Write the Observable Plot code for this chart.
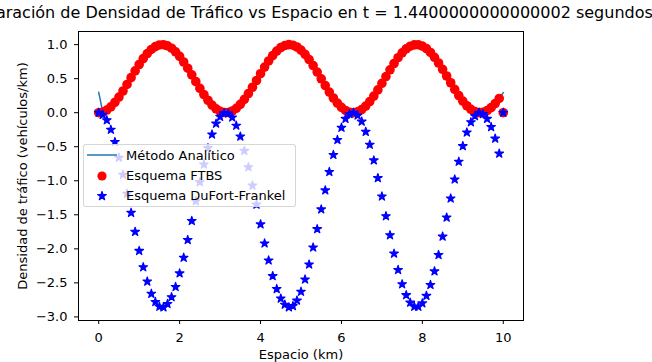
<!DOCTYPE html>
<html><head><meta charset="utf-8">
<script src="https://cdn.jsdelivr.net/npm/d3@7"></script>
<script src="https://cdn.jsdelivr.net/npm/@observablehq/plot@0.6"></script>
<style>
body{margin:0;background:#fff;}
#wrap{position:relative;width:652px;height:362px;overflow:hidden;font-family:"DejaVu Sans",sans-serif;}
#legend{position:absolute;left:83px;top:144px;width:211px;height:61px;background:rgba(255,255,255,0.8);border:1px solid rgba(204,204,204,0.8);border-radius:3px;font-size:13px;color:#000;}
.row{position:absolute;left:0;height:20px;display:flex;align-items:center;white-space:nowrap;}
.row svg{margin-left:3px;display:block;}
.row span{margin-left:9px;}
</style></head><body><div id="wrap"></div>
<script>
const title = "Comparación de Densidad de Tráfico vs Espacio en t = 1.4400000000000002 segundos";
const xLabel = "Espacio (km)";
const yLabel = "Densidad de tráfico (vehículos/km)";
const seriesNames = ["Método Analítico", "Esquema FTBS", "Esquema DuFort-Frankel"];
const xTicks = [0, 2, 4, 6, 8, 10];
const yTicks = [1.0, 0.5, 0.0, -0.5, -1.0, -1.5, -2.0, -2.5, -3.0];

const xs = [0,0.1,0.2,0.3,0.4,0.5,0.6,0.7,0.8,0.9,
1.0,1.1,1.2,1.3,1.4,1.5,1.6,1.7,1.8,1.9,
2.0,2.1,2.2,2.3,2.4,2.5,2.6,2.7,2.8,2.9,
3.0,3.1,3.2,3.3,3.4,3.5,3.6,3.7,3.8,3.9,
4.0,4.1,4.2,4.3,4.4,4.5,4.6,4.7,4.8,4.9,
5.0,5.1,5.2,5.3,5.4,5.5,5.6,5.7,5.8,5.9,
6.0,6.1,6.2,6.3,6.4,6.5,6.6,6.7,6.8,6.9,
7.0,7.1,7.2,7.3,7.4,7.5,7.6,7.7,7.8,7.9,
8.0,8.1,8.2,8.3,8.4,8.5,8.6,8.7,8.8,8.9,
9.0,9.1,9.2,9.3,9.4,9.5,9.6,9.7,9.8,9.9,
10.0];

const analytic = [0.30,0.01,0.039,0.087,0.152,0.23,0.319,0.415,0.515,0.614,
0.708,0.794,0.869,0.929,0.971,0.995,0.999,0.983,0.948,0.895,
0.827,0.745,0.654,0.556,0.456,0.358,0.266,0.183,0.112,0.057,
0.02,0.002,0.003,0.025,0.065,0.123,0.196,0.281,0.374,0.473,
0.573,0.67,0.76,0.839,0.906,0.956,0.987,1.0,0.992,0.965,
0.919,0.857,0.781,0.693,0.597,0.498,0.399,0.303,0.216,0.14,
0.078,0.033,0.007,0.0,0.014,0.046,0.097,0.164,0.244,0.335,
0.432,0.531,0.63,0.723,0.808,0.88,0.937,0.977,0.997,0.998,
0.979,0.941,0.885,0.814,0.73,0.638,0.539,0.44,0.342,0.251,
0.17,0.102,0.05,0.016,0.001,0.006,0.03,0.074,0.134,0.209,
0.296];

const ftbs = [0,0.01,0.039,0.087,0.152,0.23,0.319,0.415,0.515,0.614,
0.708,0.794,0.869,0.929,0.971,0.995,0.999,0.983,0.948,0.895,
0.827,0.745,0.654,0.556,0.456,0.358,0.266,0.183,0.112,0.057,
0.02,0.002,0.003,0.025,0.065,0.123,0.196,0.281,0.374,0.473,
0.573,0.67,0.76,0.839,0.906,0.956,0.987,1.0,0.992,0.965,
0.919,0.857,0.781,0.693,0.597,0.498,0.399,0.303,0.216,0.14,
0.078,0.033,0.007,0.0,0.014,0.046,0.097,0.164,0.244,0.335,
0.432,0.531,0.63,0.723,0.808,0.88,0.937,0.977,0.997,0.998,
0.979,0.941,0.885,0.814,0.73,0.638,0.539,0.44,0.342,0.251,
0.17,0.102,0.05,0.016,0.001,0.006,0.03,0.074,0.134,0.209,
0];

const dufort = [0,-0.03,-0.11,-0.25,-0.43,-0.66,-0.91,-1.19,-1.47,-1.75,
-2.03,-2.27,-2.48,-2.66,-2.78,-2.85,-2.86,-2.81,-2.71,-2.56,
-2.36,-2.13,-1.87,-1.59,-1.3,-1.02,-0.76,-0.52,-0.32,-0.16,
-0.06,-0.005,-0.01,-0.07,-0.19,-0.35,-0.56,-0.8,-1.07,-1.35,
-1.64,-1.92,-2.17,-2.4,-2.59,-2.73,-2.82,-2.86,-2.84,-2.76,
-2.63,-2.45,-2.23,-1.98,-1.71,-1.42,-1.14,-0.87,-0.62,-0.4,
-0.22,-0.09,-0.02,0,-0.04,-0.13,-0.28,-0.47,-0.7,-0.96,
-1.23,-1.52,-1.8,-2.07,-2.31,-2.52,-2.68,-2.79,-2.85,-2.85,
-2.8,-2.69,-2.53,-2.33,-2.09,-1.82,-1.54,-1.26,-0.98,-0.72,
-0.49,-0.29,-0.14,-0.05,0,-0.02,-0.09,-0.21,-0.38,-0.6,
0];

const data = xs.map((x, i) => ({x, analytic: analytic[i], ftbs: ftbs[i], dufort: dufort[i]}));

const colors = {analytic: "#1f77b4", ftbs: "#ff0000", dufort: "#0000ff"};
const fmtY = d => d.toFixed(1).replace("-", "\u2212");

const chart = Plot.plot({
  width: 652, height: 362,
  marginLeft: 78, marginRight: 129, marginTop: 31, marginBottom: 42,
  style: {fontFamily: "'DejaVu Sans', sans-serif", fontSize: "13px", color: "#000", background: "#fff", overflow: "visible"},
  x: {domain: [-0.5, 10.5]},
  y: {domain: [-3.053, 1.193]},
  marks: [
    Plot.axisX(xTicks, {tickSize: 4, tickPadding: 8, label: null, tickFormat: d => String(d), fontSize: 13}),
    Plot.axisY(yTicks, {tickSize: 4, tickPadding: 7, label: null, tickFormat: fmtY, fontSize: 13}),
    Plot.line(data, {x: "x", y: "analytic", stroke: colors.analytic, strokeWidth: 1.5}),
    Plot.dot(data, {x: "x", y: "ftbs", r: 4.8, fill: colors.ftbs}),
    Plot.dot(data, {x: "x", y: "dufort", r: 2.7, symbol: "star", fill: colors.dufort, stroke: colors.dufort, strokeWidth: 1.2, strokeLinejoin: "round"}),
    Plot.frame({stroke: "#000", strokeWidth: 1}),
    Plot.text([title], {frameAnchor: "top", lineAnchor: "bottom", dy: -13.5, fontSize: 16}),
    Plot.text([xLabel], {frameAnchor: "bottom", lineAnchor: "bottom", dy: 38.5, fontSize: 13}),
    Plot.text([yLabel], {frameAnchor: "left", textAnchor: "middle", rotate: -90, dx: -56, lineAnchor: "middle", fontSize: 13})
  ]
});

const wrap = document.getElementById("wrap");
wrap.appendChild(chart);

const legend = document.createElement("div");
legend.id = "legend";
const starPath = d3.symbol(d3.symbolStar, Math.PI * 2.7 * 2.7)();
const handles = [
  `<svg width="30" height="14"><line x1="0" x2="30" y1="7" y2="7" stroke="${colors.analytic}" stroke-width="1.5"/></svg>`,
  `<svg width="30" height="14"><circle cx="15" cy="7" r="4.6" fill="${colors.ftbs}"/></svg>`,
  `<svg width="30" height="14"><path transform="translate(15,7)" d="${starPath}" fill="${colors.dufort}" stroke="${colors.dufort}" stroke-width="1.2" stroke-linejoin="round"/></svg>`
];
const tops = [0, 20.5, 40.5];
seriesNames.forEach((name, i) => {
  const row = document.createElement("div");
  row.className = "row";
  row.style.top = tops[i] + "px";
  row.innerHTML = handles[i] + `<span>${name}</span>`;
  legend.appendChild(row);
});
wrap.appendChild(legend);
</script>
</body></html>
